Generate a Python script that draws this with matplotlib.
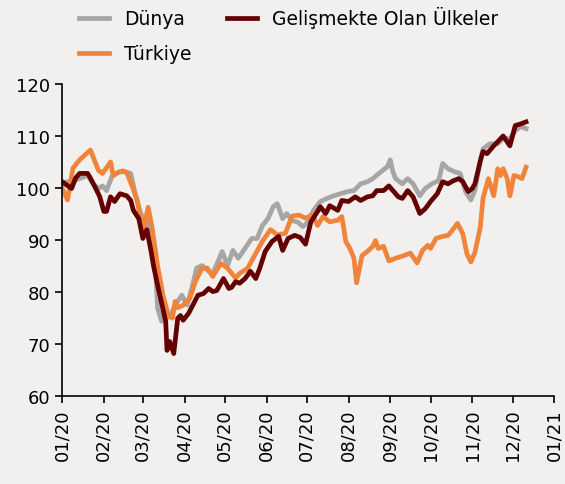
import matplotlib
matplotlib.use("Agg")
import matplotlib.pyplot as plt
import matplotlib.dates as mdates
import pandas as pd

# day offsets from 1 Jan 2020 and index values
dunya_days = [0, 8, 13, 19, 23, 27, 30, 33, 37, 42, 47, 51, 54, 58, 62, 64, 69, 71, 74, 78,
              82, 84, 89, 93, 97, 100, 104, 108, 112, 116, 119, 123, 127, 131, 136, 141, 145,
              149, 153, 157, 160, 164, 167, 171, 175, 179, 182, 187, 192, 197, 202, 207, 212,
              217, 222, 227, 231, 237, 242, 244, 246, 248, 253, 257, 261, 266, 270, 275, 280,
              283, 287, 292, 296, 300, 304, 307, 311, 313, 318, 324, 328, 333, 337, 341, 345]
dunya = [101.0, 101.4, 101.8, 102.4, 100.8, 99.9, 100.4, 99.5, 102.2, 103.1, 103.1, 102.8,
         99.3, 95.5, 92.8, 94.5, 86.5, 76.9, 74.4, 75.0, 76.3, 77.5, 79.4, 77.5, 81.3, 84.6,
         85.1, 84.2, 83.6, 85.9, 87.8, 85.1, 88.0, 86.5, 88.4, 90.3, 90.3, 92.8, 94.1, 96.4,
         97.0, 94.1, 95.1, 93.7, 93.5, 92.6, 93.2, 95.7, 97.4, 98.0, 98.5, 98.9, 99.3, 99.5,
         100.8, 101.2, 101.8, 103.1, 104.1, 105.4, 103.1, 101.8, 100.8, 101.8, 100.8, 98.5,
         99.9, 100.8, 101.4, 104.7, 103.7, 103.1, 102.8, 99.3, 97.7, 99.6, 105.3, 107.5,
         108.5, 108.5, 109.5, 109.5, 111.0, 111.8, 111.4]

gelismekte_days = [0, 7, 10, 13, 19, 21, 25, 28, 31, 33, 36, 39, 43, 48, 51, 53, 57, 60, 63,
                   66, 68, 71, 77, 78, 80, 83, 86, 88, 90, 94, 97, 101, 105, 109, 112, 115,
                   120, 124, 126, 129, 132, 136, 140, 144, 147, 151, 156, 161, 164, 168, 173,
                   177, 181, 185, 190, 192, 196, 199, 205, 208, 213, 218, 222, 227, 231, 234,
                   239, 243, 246, 250, 253, 257, 261, 266, 270, 274, 279, 283, 287, 291, 295,
                   298, 302, 305, 307, 311, 313, 316, 321, 324, 328, 333, 337, 341, 345]
gelismekte = [101.2, 99.9, 101.9, 102.8, 102.8, 101.9, 99.9, 98.3, 95.5, 95.5, 98.3, 97.4,
              98.9, 98.5, 97.6, 95.7, 94.1, 90.3, 92.0, 88.0, 85.0, 81.3, 74.4, 68.8, 70.5,
              68.2, 75.0, 75.5, 74.6, 75.9, 77.4, 79.4, 79.7, 80.7, 80.1, 80.3, 82.6, 80.7,
              80.9, 82.0, 81.7, 82.6, 84.0, 82.6, 84.6, 87.8, 89.7, 90.7, 88.0, 90.3, 90.9,
              90.5, 89.2, 93.5, 95.5, 96.4, 95.1, 96.6, 95.7, 97.6, 97.4, 98.3, 97.6, 98.3,
              98.5, 99.5, 99.5, 100.4, 99.5, 98.3, 98.0, 99.5, 98.3, 95.1, 96.0, 97.4, 98.9,
              101.2, 100.8, 101.4, 101.8, 101.2, 99.3, 99.9, 100.8, 105.2, 107.0, 106.6,
              108.1, 108.9, 110.0, 108.1, 112.0, 112.3, 112.7]

turkiye_days = [0, 4, 8, 13, 21, 23, 27, 30, 36, 38, 42, 45, 48, 52, 56, 60, 64, 67, 71, 75,
                79, 82, 84, 86, 90, 95, 99, 104, 108, 112, 118, 123, 129, 132, 138, 142, 149,
                155, 160, 166, 171, 176, 181, 186, 190, 194, 199, 205, 208, 211, 214, 217,
                219, 223, 227, 231, 233, 235, 239, 243, 248, 254, 259, 264, 268, 272, 274,
                278, 283, 287, 290, 294, 298, 301, 304, 307, 311, 313, 317, 321, 324, 326,
                328, 331, 333, 336, 339, 342, 345]
turkiye = [100.0, 97.7, 103.8, 105.4, 107.3, 106.0, 103.4, 102.8, 105.0, 102.4, 103.0, 103.3,
           103.0, 100.4, 97.4, 91.6, 96.3, 92.2, 85.0, 79.4, 75.5, 75.0, 78.2, 77.0, 77.5,
           78.8, 82.0, 84.6, 84.6, 83.0, 85.5, 84.6, 82.7, 83.6, 84.6, 86.5, 89.8, 92.0, 91.0,
           91.3, 94.6, 94.8, 94.2, 94.8, 92.8, 94.5, 93.5, 93.8, 94.5, 89.7, 88.4, 86.5, 81.8,
           87.0, 87.8, 88.8, 89.9, 88.4, 88.8, 86.0, 86.5, 87.0, 87.5, 85.6, 88.0, 89.0, 88.4,
           90.3, 90.7, 90.9, 91.8, 93.2, 91.2, 87.4, 85.8, 87.6, 92.5, 98.0, 101.8, 98.5,
           103.7, 102.4, 103.7, 101.8, 98.5, 102.4, 102.2, 101.8, 104.0]

start = pd.Timestamp("2020-01-01")


def to_dates(days):
    return start + pd.to_timedelta(days, unit="D")


bg = "#F2F0EF"
plt.rcParams["font.family"] = ["DejaVu Sans"]

fig = plt.figure(figsize=(5.65, 4.85), dpi=100, facecolor=bg)
ax = fig.add_axes([0.110, 0.181, 0.871, 0.644], facecolor=bg)

lw = 3.4
ax.plot(to_dates(dunya_days), dunya, color="#A6A6A6", lw=lw, label="Dünya")
ax.plot(to_dates(turkiye_days), turkiye, color="#F0843A", lw=lw, label="Türkiye")
ax.plot(to_dates(gelismekte_days), gelismekte, color="#650000", lw=lw,
        label="Gelişmekte Olan Ülkeler")

ax.set_xlim(pd.Timestamp("2020-01-01"), pd.Timestamp("2021-01-01"))
ax.set_ylim(60, 120)
ax.set_yticks(range(60, 121, 10))
ax.xaxis.set_major_locator(mdates.MonthLocator())
ax.xaxis.set_major_formatter(mdates.DateFormatter("%m/%y"))

for s in ["top", "right"]:
    ax.spines[s].set_visible(False)
for s in ["left", "bottom"]:
    ax.spines[s].set_linewidth(1.2)
ax.tick_params(axis="both", labelsize=13, length=5, width=1.2, direction="out")
ax.tick_params(axis="x", rotation=90)

fig.legend(loc="upper left", bbox_to_anchor=(0.11, 1.02), ncol=2, frameon=False,
           fontsize=13.5, handlelength=1.6, handletextpad=0.8, columnspacing=1.9,
           labelspacing=0.85)

fig.savefig("out.png", dpi=100, facecolor=bg)
